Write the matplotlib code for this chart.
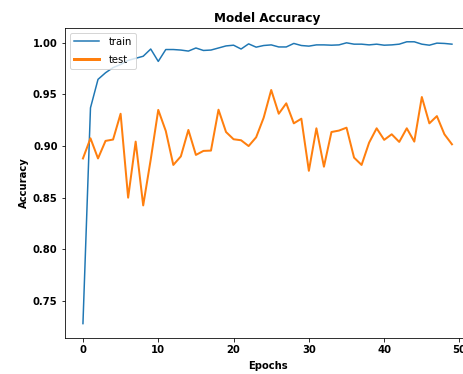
import matplotlib
matplotlib.use("Agg")
import matplotlib.pyplot as plt

epochs = list(range(50))

train_acc = [0.728, 0.937, 0.9646, 0.971, 0.976, 0.979, 0.983, 0.985, 0.987, 0.994,
             0.982, 0.9935, 0.9935, 0.993, 0.992, 0.995, 0.9926, 0.993, 0.995, 0.997,
             0.9977, 0.994, 0.999, 0.9958, 0.9974, 0.998, 0.996, 0.996, 0.9994, 0.9974,
             0.9968, 0.998, 0.998, 0.9977, 0.998, 1.000, 0.9987, 0.9987, 0.998, 0.9987,
             0.9977, 0.998, 0.9987, 1.001, 1.001, 0.9987, 0.9977, 0.9997, 0.9994, 0.9987]

test_acc = [0.888, 0.9075, 0.888, 0.905, 0.9063, 0.9313, 0.850, 0.9043, 0.8425, 0.887,
            0.9350, 0.9146, 0.8817, 0.890, 0.9156, 0.8914, 0.8953, 0.8956, 0.9352, 0.9136,
            0.9066, 0.9056, 0.900, 0.9085, 0.9275, 0.9543, 0.9313, 0.9414, 0.922, 0.9265,
            0.876, 0.9172, 0.880, 0.9136, 0.915, 0.9178, 0.8888, 0.8817, 0.9033, 0.9172,
            0.906, 0.9114, 0.904, 0.9172, 0.9043, 0.9475, 0.922, 0.929, 0.9114, 0.9017]

W, H = 463, 374
fig = plt.figure(figsize=(W / 72, H / 72), dpi=72)
ax = fig.add_axes([64.5 / W, (H - 337.7) / H, (470.4 - 64.5) / W, (337.7 - 27.7) / H])

ax.plot(epochs, train_acc, color="#1f77b4", lw=1.5, label="train")
ax.plot(epochs, test_acc, color="#ff7f0e", lw=2.0, label="test")

ax.set_title("Model Accuracy", fontsize=12, fontweight="bold")
ax.set_xlabel("Epochs", fontsize=10, fontweight="bold", labelpad=6)
ax.set_ylabel("Accuracy", fontsize=10, fontweight="bold")
ax.set_xticks([0, 10, 20, 30, 40, 50])
ax.set_yticks([0.75, 0.80, 0.85, 0.90, 0.95, 1.00])
for lbl in ax.get_xticklabels() + ax.get_yticklabels():
    lbl.set_fontweight("bold")
    lbl.set_fontsize(10)
leg = ax.legend(loc="upper left", fontsize=10, handlelength=2.5,
                labelspacing=0.8, handletextpad=1.0)
leg.get_lines()[1].set_linewidth(3)

fig.savefig("out.png", dpi=72)
